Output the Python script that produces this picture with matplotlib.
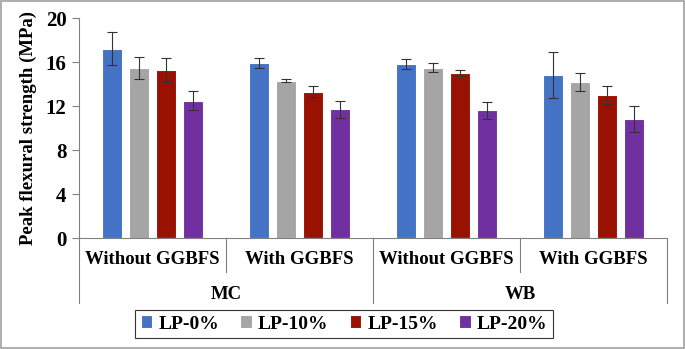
import numpy as np
import matplotlib.pyplot as plt
from matplotlib.patches import Rectangle
import matplotlib.transforms as mtransforms

plt.rcParams['font.family'] = ['Liberation Serif', 'DejaVu Serif']
plt.rcParams['font.weight'] = 'bold'

subgroups = ["Without GGBFS", "With GGBFS", "Without GGBFS", "With GGBFS"]
groups = ["MC", "WB"]
series = ["LP-0%", "LP-10%", "LP-15%", "LP-20%"]
colors = ["#4472C4", "#A5A5A5", "#991100", "#7030A0"]

# values per series, ordered MC-without, MC-with, WB-without, WB-with
lp0 = [17.2, 15.9, 15.8, 14.8]
lp10 = [15.5, 14.3, 15.5, 14.2]
lp15 = [15.3, 13.3, 15.0, 13.0]
lp20 = [12.5, 11.7, 11.6, 10.8]
err0 = [1.5, 0.45, 0.45, 2.1]
err10 = [1.0, 0.15, 0.4, 0.8]
err15 = [1.1, 0.5, 0.3, 0.85]
err20 = [0.9, 0.8, 0.8, 1.2]

vals = [lp0, lp10, lp15, lp20]
errs = [err0, err10, err15, err20]

fig = plt.figure(figsize=(6.85, 3.49), dpi=100)
ax = fig.add_axes([79/685, 111/349, 588/685, 220/349])

x = np.arange(len(subgroups))
step = 27/147
w = 20/147
for i in range(4):
    ax.bar(x + (i - 1.5)*step, vals[i], w, color=colors[i], edgecolor='white',
           linewidth=0.8, label=series[i], zorder=2)
    ax.errorbar(x + (i - 1.5)*step, vals[i], yerr=errs[i], fmt='none',
                ecolor='#333333', elinewidth=0.8, capsize=3.5, capthick=0.8, zorder=3)

ax.set_xlim(-0.5, 3.5)
ax.set_ylim(0, 20)
ax.set_yticks([0, 4, 8, 12, 16, 20])
ax.tick_params(axis='y', labelsize=15, direction='out', length=5, color='#808080', pad=4)
ax.set_xticks([])
for s in ['top', 'right']:
    ax.spines[s].set_visible(False)
ax.spines['left'].set_color('#808080')
ax.spines['bottom'].set_color('#808080')
ax.set_ylabel("Peak flexural strength (MPa)", fontsize=13.5, fontweight='bold', labelpad=6)

trans = mtransforms.blended_transform_factory(ax.transData, ax.transAxes)
for xv in [-0.5, 1.5, 3.5]:
    ax.plot([xv, xv], [0, -0.295], transform=trans, color='#808080', lw=0.8, clip_on=False)
for xv in [0.5, 2.5]:
    ax.plot([xv, xv], [0, -0.155], transform=trans, color='#808080', lw=0.8, clip_on=False)
for xi, lab in zip(x, subgroups):
    ax.text(xi, -0.1, lab, transform=trans, ha='center', va='center', fontsize=13.5, fontweight='bold')
for gi, lab in enumerate(groups):
    ax.text(0.5 + 2*gi, -0.255, lab, transform=trans, ha='center', va='center', fontsize=13.5, fontweight='bold')

leg = fig.legend(loc='center', bbox_to_anchor=(344/685, 25/349), ncol=4, frameon=True,
                 fontsize=14, handlelength=0.6, handleheight=0.6, handletextpad=0.3,
                 columnspacing=1.1, borderpad=0.3, fancybox=False)
leg.get_frame().set_edgecolor('black')
leg.get_frame().set_linewidth(0.8)

fig.patches.append(Rectangle((0.002, 0.003), 0.996, 0.994, transform=fig.transFigure,
                             fill=False, edgecolor='#A0A0A0', lw=1.2))

fig.savefig("out.png", dpi=100)
